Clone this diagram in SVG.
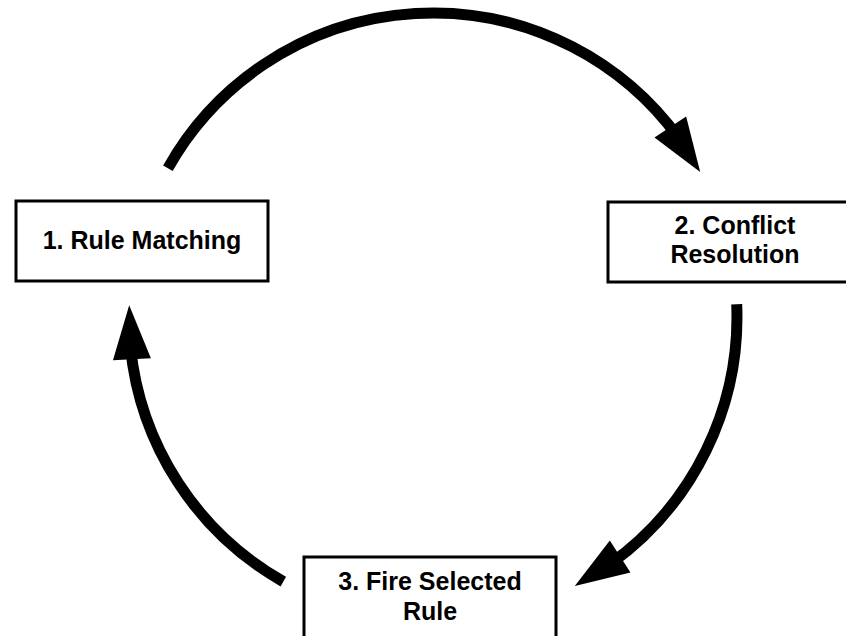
<svg xmlns="http://www.w3.org/2000/svg" width="846" height="636" viewBox="0 0 846 636">
  <style>
    .box { fill: #ffffff; stroke: #000000; stroke-width: 3; }
    .label { font-family: "Liberation Sans", Arial, sans-serif; font-weight: bold; font-size: 25px; fill: #000000; text-anchor: middle; }
    .arc { fill: none; stroke: #000000; stroke-width: 11; stroke-linecap: butt; }
    .head { fill: #000000; stroke: none; }
  </style>
  <defs>
    <polygon id="head" class="head" points="0,0 -54,-19 -54,19"/>
  </defs>
  <rect width="846" height="636" fill="#ffffff"/>

  <g id="connectors">
    <path class="arc" d="M 167.9,168.2 A 304 304 0 0 1 678.9,138.3"/>
    <use href="#head" transform="translate(700.2,171.9) rotate(56.4)"/>
    <path class="arc" d="M 736.7,304.3 A 304 304 0 0 1 609.5,564.5"/>
    <use href="#head" transform="translate(574.8,585.9) rotate(147.1)"/>
    <path class="arc" d="M 283.3,581.6 A 304 304 0 0 1 130.4,346.1"/>
    <use href="#head" transform="translate(129.2,305.3) rotate(267.1)"/>
  </g>

  <g id="node1">
    <rect class="box" x="16" y="201" width="252" height="80"/>
    <text class="label" x="142" y="248.5">1. Rule Matching</text>
  </g>
  <g id="node2">
    <rect class="box" x="608" y="202" width="254" height="80"/>
    <text class="label" x="735" y="233.5">2. Conflict</text>
    <text class="label" x="735" y="263">Resolution</text>
  </g>
  <g id="node3">
    <rect class="box" x="304" y="557" width="252" height="81"/>
    <text class="label" x="430" y="590">3. Fire Selected</text>
    <text class="label" x="430" y="619.5">Rule</text>
  </g>
</svg>
